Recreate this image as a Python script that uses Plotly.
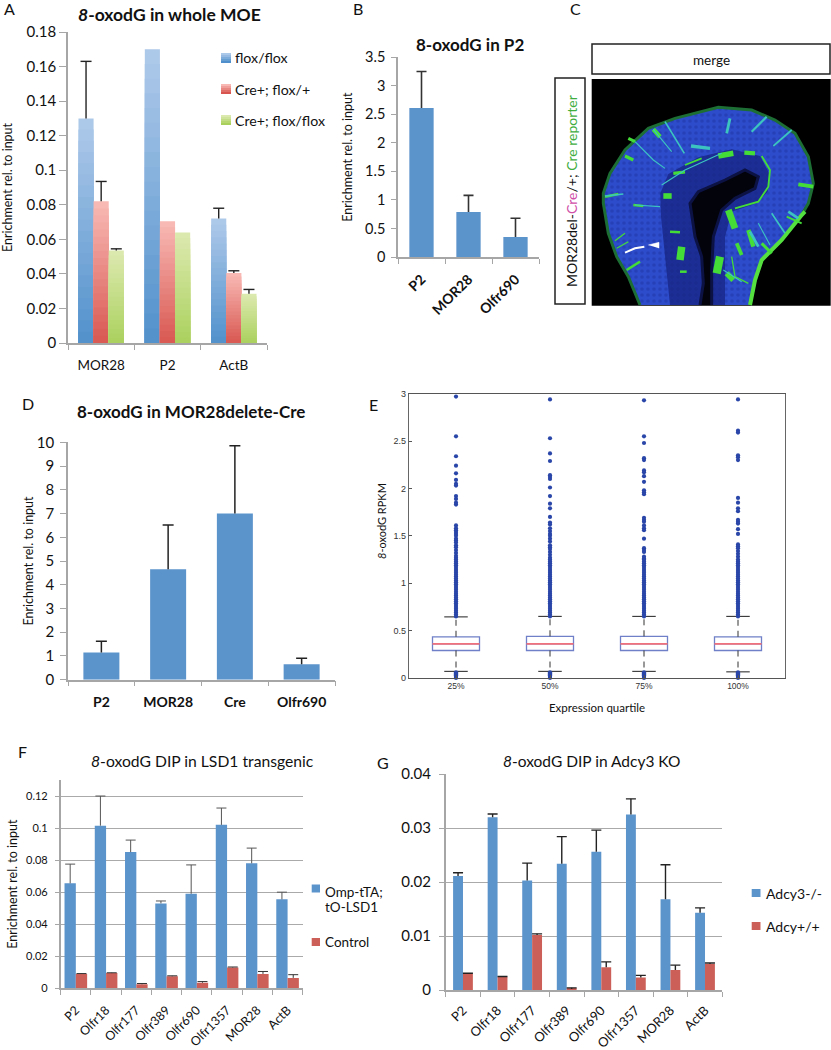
import plotly.graph_objects as go

W, H = 831, 1050
GRAY = "#a6a6a6"
BLUE = "#5b93cb"
RED = "#cc6058"
FONT = "Lato"

# Panel A
A_CATS = ["MOR28", "P2", "ActB"]
A_NAMES = ["flox/flox", "Cre+; flox/+", "Cre+; flox/flox"]
A_VALUES = [[0.130, 0.170, 0.072], [0.082, 0.0705, 0.0405], [0.0535, 0.064, 0.0285]]
A_TOPS = [[0.163, 0.170, 0.078], [0.0935, 0.0705, 0.0418], [0.0545, 0.064, 0.031]]

# Panel B
B_CATS = ["P2", "MOR28", "Olfr690"]
B_VALUES = [2.61, 0.79, 0.35]
B_TOPS = [3.25, 1.08, 0.68]

# Panel D
D_CATS = ["P2", "MOR28", "Cre", "Olfr690"]
D_VALUES = [1.15, 4.65, 7.0, 0.65]
D_TOPS = [1.62, 6.52, 9.85, 0.9]

# Panel E
E_POS = [1, 2, 3, 4]
E_LABELS = ["25%", "50%", "75%", "100%"]
E_Q1 = [0.29, 0.29, 0.29, 0.29]
E_MED = [0.36, 0.36, 0.36, 0.36]
E_Q3 = [0.435, 0.44, 0.44, 0.435]
E_LOWF = [0.07, 0.07, 0.07, 0.065]
E_UPF = [0.645, 0.65, 0.65, 0.65]
E_DENSE = [0.65, 0.67, 0.69, 0.71, 0.73, 0.75, 0.77, 0.79, 0.81, 0.83, 0.85, 0.87, 0.89, 0.91, 0.93,
           0.95, 0.97, 0.99, 1.01, 1.03, 1.05, 1.07, 1.09, 1.11, 1.13, 1.15, 1.17, 1.19, 1.21, 1.23, 1.25]
E_LOW = [0.0, 0.01, 0.02, 0.03, 0.04, 0.05, 0.06]
E_OUT = [
    [2.97, 2.55, 2.34, 2.24, 2.16, 2.09, 2.05, 2.03, 1.92, 1.89, 1.85, 1.83, 1.61, 1.58, 1.56, 1.54, 1.52,
     1.50, 1.47, 1.45, 1.43, 1.40, 1.38, 1.35, 1.32, 1.29, 1.27],
    [2.94, 2.53, 2.37, 2.29, 2.14, 2.12, 2.10, 2.01, 1.92, 1.84, 1.79, 1.70, 1.64, 1.62, 1.58, 1.55, 1.52,
     1.50, 1.47, 1.44, 1.40, 1.38, 1.36, 1.33, 1.30, 1.27],
    [2.93, 2.55, 2.48, 2.32, 2.30, 2.19, 2.17, 2.13, 2.07, 1.98, 1.96, 1.94, 1.69, 1.67, 1.65, 1.61, 1.58,
     1.56, 1.47, 1.37, 1.35, 1.33, 1.28, 1.26],
    [2.94, 2.61, 2.59, 2.35, 2.33, 2.30, 1.90, 1.85, 1.79, 1.76, 1.67, 1.65, 1.63, 1.57, 1.52, 1.41, 1.39,
     1.37, 1.34, 1.31, 1.28],
]

# Panels F and G
TARGETS = ["P2", "Olfr18", "Olfr177", "Olfr389", "Olfr690", "Olfr1357", "MOR28", "ActB"]
F_BLUE = [0.0655, 0.1015, 0.085, 0.053, 0.059, 0.102, 0.078, 0.0555]
F_BLUE_TOP = [0.0775, 0.12, 0.0925, 0.0545, 0.077, 0.1125, 0.0875, 0.06]
F_RED = [0.009, 0.0095, 0.0025, 0.0075, 0.0035, 0.013, 0.009, 0.0065]
F_RED_TOP = [0.0092, 0.0097, 0.003, 0.0078, 0.0042, 0.0133, 0.0105, 0.0085]
G_BLUE = [0.0211, 0.032, 0.0203, 0.0234, 0.0256, 0.0325, 0.0168, 0.0143]
G_BLUE_TOP = [0.0217, 0.0326, 0.0235, 0.0284, 0.0296, 0.0354, 0.0232, 0.0152]
G_RED = [0.003, 0.0024, 0.0102, 0.0002, 0.0042, 0.0023, 0.0037, 0.0048]
G_RED_TOP = [0.0031, 0.0025, 0.0104, 0.0004, 0.0052, 0.0027, 0.0046, 0.005]

# Panel C micrograph sketch (image coordinates)
TISSUE = [(165, 705), (130, 620), (95, 560), (70, 490), (55, 400), (55, 370), (75, 310), (120, 240), (190, 175),
          (270, 145), (400, 112), (500, 120), (570, 150), (630, 190), (670, 260), (685, 340), (670, 400),
          (650, 435), (590, 510), (530, 570), (510, 630), (495, 705)]
INNER = [(255, 705), (240, 560), (228, 440), (226, 370), (250, 312), (340, 262), (440, 238), (525, 258), (555, 315),
         (548, 365), (515, 400), (440, 425), (420, 500), (420, 705)]
LUMEN = [(345, 705), (355, 640), (350, 560), (330, 500), (315, 400), (340, 365), (420, 330), (480, 300),
         (520, 320), (510, 355), (450, 385), (410, 420), (385, 500), (380, 600), (380, 705)]
RIM = [(495, 705), (510, 630), (530, 570), (590, 510), (650, 435), (660, 425)]
GREEN_CELLS = [
    ([(205, 178), (225, 200)], 7), ([(150, 215), (130, 205)], 5), ([(120, 258), (145, 270)], 5),
    ([(60, 380), (100, 372)], 4), ([(400, 258), (445, 250)], 9), ([(478, 248), (510, 250)], 7),
    ([(235, 378), (260, 378)], 9), ([(265, 310), (300, 306)], 5), ([(300, 285), (350, 265)], 3),
    ([(530, 258), (555, 300), (550, 350), (520, 395), (450, 415)], 3), ([(430, 420), (450, 475)], 11),
    ([(290, 530), (285, 570)], 12), ([(405, 560), (395, 610)], 13), ([(490, 480), (505, 530)], 7),
    ([(455, 520), (470, 555)], 6), ([(425, 610), (445, 630)], 9), ([(640, 343), (685, 350)], 6),
    ([(90, 512), (120, 490)], 2), ([(95, 535), (130, 515)], 2), ([(125, 600), (165, 575)], 4),
    ([(255, 485), (285, 487)], 4), ([(145, 405), (175, 408)], 4), ([(530, 520), (560, 550)], 5),
    ([(605, 440), (650, 460)], 3), ([(285, 605), (305, 605)], 4), ([(440, 560), (450, 620), (490, 640)], 2),
]
CYAN_CELLS = [
    ([(240, 155), (275, 215), (298, 250)], 3), ([(205, 178), (260, 245)], 2), ([(150, 215), (205, 270), (240, 295)], 2),
    ([(318, 228), (375, 235)], 6), ([(435, 145), (425, 190)], 5), ([(545, 140), (500, 185)], 4),
    ([(620, 180), (565, 228)], 3), ([(60, 378), (115, 372)], 3), ([(560, 430), (600, 490)], 3),
    ([(520, 460), (555, 525)], 2), ([(495, 485), (520, 530)], 5), ([(150, 405), (225, 410)], 2),
    ([(415, 600), (470, 635)], 2), ([(610, 425), (640, 445)], 5), ([(230, 345), (300, 300), (410, 250)], 2),
]

# Layout in page pixels: x0, x1, ytop, ybottom
PANELS = {
    "a": (68, 267, 32, 343), "b": (398, 539, 57.3, 257), "d": (68, 335, 442.3, 679.7),
    "e": (409, 785, 393.7, 678), "f": (60.7, 302.7, 780, 988.3), "g": (445.7, 722.3, 774, 990),
    "c": (585, 831, 70, 310),
}
AXES = {"a": "", "b": "2", "d": "3", "e": "4", "f": "5", "g": "6", "c": "7"}


def dom(name):
    x0, x1, yt, yb = PANELS[name]
    return [x0 / W, x1 / W], [1 - yb / H, 1 - yt / H]


def mix(c0, c1, t):
    a = [int(c0[i:i + 2], 16) for i in (1, 3, 5)]
    b = [int(c1[i:i + 2], 16) for i in (1, 3, 5)]
    return "rgb(%d,%d,%d)" % tuple(round(p + (q - p) * t) for p, q in zip(a, b))


def segs(pairs):
    xs, ys = [], []
    for x0, y0, x1, y1 in pairs:
        xs += [x0, x1, None]
        ys += [y0, y1, None]
    return xs, ys


fig = go.Figure()


def whiskers(values, tops, key, width, offset, color, thick, cap_px):
    """Upper-only error bars with a single cap at the top."""
    s = AXES[key]
    n = PANELS[key][1] - PANELS[key][0]
    half = cap_px / (n / len(values))
    centre = offset + width / 2
    pairs = []
    for i, (v, t) in enumerate(zip(values, tops)):
        if t > v:
            pairs.append((i + centre, v, i + centre, t))
            pairs.append((i + centre - half, t, i + centre + half, t))
    xs, ys = segs(pairs)
    fig.add_trace(go.Scatter(x=xs, y=ys, mode="lines", xaxis="x" + s, yaxis="y" + s, showlegend=False,
                             hoverinfo="skip", line=dict(color=color, width=thick)))


def bar(values, tops, key, color, width, offset, ecolor="#222222", ethick=1.4, cap=5):
    s = AXES[key]
    fig.add_trace(go.Bar(x=list(range(len(values))), y=values, xaxis="x" + s, yaxis="y" + s, width=width, offset=offset,
                         marker=dict(color=color, line=dict(width=0)), showlegend=False))
    whiskers(values, tops, key, width, offset, ecolor, ethick, cap)


# Panel A: shaded bars are drawn as nested layers, tallest first
A_GRAD = [("#4f8fcb", "#adc9e9"), ("#d8554f", "#f8b8b3"), ("#a9d05c", "#dce9ae")]
LAYERS = 20
w = 0.228
for i, (vals, tops) in enumerate(zip(A_VALUES, A_TOPS)):
    low, high = A_GRAD[i]
    for k in range(LAYERS, 0, -1):
        t = k / LAYERS
        fig.add_trace(go.Bar(
            x=list(range(len(A_CATS))), y=[v * t for v in vals], width=w, offset=w * (i - 1.5),
            marker=dict(color=mix(low, high, t), line=dict(width=0)), showlegend=False, hoverinfo="skip"))
for i, (vals, tops) in enumerate(zip(A_VALUES, A_TOPS)):
    whiskers(vals, tops, "a", w, w * (i - 1.5), "#222222", 1.4, 5.5)

# Panel B
wb = 24.3 / 47
bar(B_VALUES, B_TOPS, "b", BLUE, wb, -wb / 2, "#333333", 1.6, 5)

# Panel D
wd = 36 / 66.75
bar(D_VALUES, D_TOPS, "d", BLUE, wd, -wd / 2, "#222222", 1.5, 5.5)

# Panel E
fig.add_trace(go.Box(x=E_POS, q1=E_Q1, median=E_MED, q3=E_Q3, lowerfence=E_Q1, upperfence=E_Q3,
                     width=0.5, boxpoints=False, xaxis="x4", yaxis="y4", showlegend=False,
                     line=dict(color="#6f80c8", width=1.3), fillcolor="rgba(0,0,0,0)"))
for spec, color, dash, lw in [
    ([(p - 0.25, m, p + 0.25, m) for p, m in zip(E_POS, E_MED)], "#f0707c", "solid", 1.8),
    ([(p, q, p, u) for p, q, u in zip(E_POS, E_Q3, E_UPF)] +
     [(p, q, p, l) for p, q, l in zip(E_POS, E_Q1, E_LOWF)], "#333333", "6px,5px", 1),
    ([(p - 0.125, u, p + 0.125, u) for p, u in zip(E_POS, E_UPF)] +
     [(p - 0.125, l, p + 0.125, l) for p, l in zip(E_POS, E_LOWF)], "#333333", "solid", 1.1),
]:
    xs, ys = segs(spec)
    fig.add_trace(go.Scatter(x=xs, y=ys, mode="lines", xaxis="x4", yaxis="y4", showlegend=False,
                             line=dict(color=color, width=lw, dash=dash)))
for p, out in zip(E_POS, E_OUT):
    ys = out + E_DENSE + E_LOW
    fig.add_trace(go.Scatter(x=[p] * len(ys), y=ys, mode="markers", xaxis="x4", yaxis="y4", showlegend=False,
                             cliponaxis=False, marker=dict(color="#2a46a8", size=4.2, line=dict(width=0))))

# Panels F and G
wf = 11.3 / 30.25
bar(F_BLUE, F_BLUE_TOP, "f", BLUE, wf, -wf, "#555555", 1, 5)
bar(F_RED, F_RED_TOP, "f", RED, wf, 0, "#333333", 1, 5)
wg = 9.9 / 34.6
bar(G_BLUE, G_BLUE_TOP, "g", BLUE, wg, -wg, "#222222", 1.4, 5)
bar(G_RED, G_RED_TOP, "g", RED, wg, 0, "#222222", 1.4, 5)


# Panel C sketch
def poly(points, **kw):
    fig.add_trace(go.Scatter(x=[p[0] for p in points], y=[p[1] for p in points], xaxis="x7", yaxis="y7",
                             showlegend=False, hoverinfo="skip", **kw))


poly(TISSUE, mode="lines", fill="toself", line=dict(color="#1d6e35", width=3), fillcolor="#2d4ccc",
     fillpattern=dict(shape=".", bgcolor="#2d4ccc", fgcolor="#1f36a4", size=6, solidity=0.3))
poly(INNER, mode="lines", fill="toself", line=dict(width=0), fillcolor="rgba(20,30,120,0.65)")
poly(LUMEN, mode="lines", fill="toself", line=dict(color="#0c1344", width=3), fillcolor="#03030c")
poly(RIM, mode="lines", line=dict(color="#55e040", width=4))
for pts, lw in GREEN_CELLS:
    poly(pts, mode="lines", line=dict(color="#44dd38", width=lw / 1.6))
for pts, lw in CYAN_CELLS:
    poly(pts, mode="lines", line=dict(color="#3cc4c0", width=lw / 1.8))
poly([(120, 548), (150, 535), (178, 530)], mode="lines", line=dict(color="#ffffff", width=2))
poly([(190, 525), (222, 517), (222, 535)], mode="lines", fill="toself", line=dict(color="#ffffff", width=0.5),
     fillcolor="#ffffff")

# Axes
layout = dict(width=W, height=H, margin=dict(l=0, r=0, t=0, b=0), paper_bgcolor="white", plot_bgcolor="rgba(0,0,0,0)",
              barmode="overlay", showlegend=False, font=dict(family=FONT, color="#111111"))


def cat_axes(key, cats, ymax, dtick, tick_size, title_size, standoff, ticklen=6, ystand=0, xstand=0, rot=0, bold=False,
             grid=False, xsize=None, titled=True):
    s = AXES[key]
    dx, dy = dom(key)
    n = len(cats)
    layout["xaxis" + s] = dict(domain=dx, anchor="y" + s, range=[-0.5, n - 0.5], tickvals=list(range(n)), ticktext=cats,
                               ticks="outside", ticklen=5, tickcolor="rgba(0,0,0,0)", ticklabelstandoff=xstand,
                               minor=dict(tickvals=[i - 0.5 for i in range(n + 1)], ticks="outside", ticklen=5,
                                          tickcolor=GRAY, tickwidth=1.2, showgrid=False),
                               linecolor=GRAY, linewidth=1.5, showline=True, showgrid=False, zeroline=False,
                               tickangle=rot, automargin=False,
                               tickfont=dict(size=xsize or tick_size, family=FONT, weight=700 if bold else 400))
    layout["yaxis" + s] = dict(domain=dy, anchor="x" + s, range=[0, ymax], dtick=dtick, ticks="outside", ticklen=ticklen,
                               tickcolor=GRAY, linecolor=GRAY, linewidth=1.5, showline=True, showgrid=grid,
                               gridcolor="#aaaaaa", gridwidth=1.2, automargin=False, zeroline=False,
                               ticklabelstandoff=ystand, tickformat="~g", tickfont=dict(size=tick_size, family=FONT))
    if titled:
        layout["yaxis" + s]["title"] = dict(text="Enrichment rel. to input", standoff=standoff,
                                            font=dict(size=title_size, family=FONT))


cat_axes("a", A_CATS, 0.18, 0.02, 15, 12.5, 16, ticklen=7, xsize=13.5, xstand=4)
cat_axes("b", B_CATS, 3.5, 0.5, 14.5, 12.5, 10, ticklen=5, ystand=3, rot=-45, bold=True, xsize=14, xstand=2)
cat_axes("d", D_CATS, 10, 1, 15, 12.5, 0, ticklen=6, ystand=3, bold=True, xsize=14, xstand=4)
cat_axes("f", TARGETS, 0.13, 0.02, 11, 12.5, 6, ticklen=4, ystand=5, rot=-45, grid=True, xsize=12.5, xstand=3)
cat_axes("g", TARGETS, 0.04, 0.01, 15, 10, 6, ticklen=5, ystand=5, rot=-45, grid=True, xsize=13, xstand=1, titled=False)

dx, dy = dom("e")
layout["xaxis4"] = dict(domain=dx, anchor="y4", range=[0.5, 4.5], tickvals=E_POS, ticktext=E_LABELS, ticks="inside",
                        ticklen=3, tickcolor="#555555", linecolor="#555555", linewidth=1.4, showline=True, mirror=True,
                        showgrid=False, zeroline=False, automargin=False,
                        tickfont=dict(size=8.5, family="Liberation Sans", color="#333333"),
                        title=dict(text="Expression quartile", standoff=13, font=dict(size=11.5, family=FONT)))
layout["yaxis4"] = dict(domain=dy, anchor="x4", range=[0, 3], dtick=0.5, tickformat="~g", ticks="inside", ticklen=3,
                        tickcolor="#555555", linecolor="#666666", linewidth=1.4, showline=True, mirror=True,
                        showgrid=False, zeroline=False, automargin=False,
                        tickfont=dict(size=9, family="Liberation Sans", color="#333333"))
dx, dy = dom("c")
layout["xaxis7"] = dict(domain=dx, anchor="y7", range=[0, 738], visible=False)
layout["yaxis7"] = dict(domain=dy, anchor="x7", range=[720, 0], visible=False)


def txt(x, y, text, size, anchor="center", **kw):
    return dict(x=x / W, y=1 - y / H, xref="paper", yref="paper", text=text, showarrow=False, xanchor=anchor,
                yanchor="middle", font=dict(size=size, family=FONT, color="#111111"), **kw)


ann = [
    txt(9, 8, "A", 16), txt(358, 8, "B", 16), txt(575, 8, "C", 16), txt(28, 403, "D", 16), txt(373, 405, "E", 16),
    txt(22, 751, "F", 16), txt(383, 762, "G", 16),
    txt(169, 15, "<b><i>8</i>-oxodG in whole MOE</b>", 17.5), txt(470, 45, "<b>8-oxodG in P2</b>", 17),
    txt(191, 411, "<b>8-oxodG in MOR28delete-Cre</b>", 17),
    txt(202, 761, "<i>8</i>-oxodG DIP in LSD1 transgenic", 15.7), txt(591, 761, "<i>8</i>-oxodG DIP in Adcy3 KO", 15.5),
    txt(711, 60, "merge", 13.5),
    txt(381, 521, "<i>8</i>-oxodG RPKM", 11, textangle=-90),
    txt(571, 191, 'MOR28del-<span style="color:#d04fa8">Cre</span>/+; <span style="color:#3fae3f">Cre reporter</span>',
        14, textangle=-90),
    txt(323, 892, "Omp-tTA;", 13.5, "left"), txt(323, 907, "tO-LSD1", 13.5, "left"), txt(323, 942, "Control", 13.5, "left"),
    txt(764, 893, "Adcy3-/-", 14, "left"), txt(764, 926, "Adcy+/+", 14, "left"),
]
for name, y in zip(A_NAMES, [58, 89, 120]):
    ann.append(txt(233, y, name, 14.2, "left"))
layout["annotations"] = ann


def rect(x0, y0, x1, y1, fill=None, line=None, lw=0):
    return dict(type="rect", xref="paper", yref="paper", x0=x0 / W, x1=x1 / W, y0=1 - y0 / H, y1=1 - y1 / H,
                fillcolor=fill or "rgba(0,0,0,0)", line=dict(color=line or "rgba(0,0,0,0)", width=lw), layer="below")


shapes = [
    rect(591.7, 79, 830.7, 305.7, "#000000"),
    rect(592, 44, 830, 74, None, "#222222", 1.5),
    rect(555, 78, 585, 304, None, "#222222", 1.5),
    rect(311.7, 884.5, 320, 892.5, BLUE), rect(311.7, 938, 320, 946, RED),
    rect(751.7, 889, 760.5, 897, BLUE), rect(751.7, 922, 760.5, 930, RED),
]
for (low, high), y in zip(A_GRAD, [58, 89, 120]):
    for j in range(5):
        shapes.append(rect(221, y - 5 + 2 * j, 231, y - 3 + 2 * j, mix(high, low, j / 4)))
layout["shapes"] = shapes

fig.update_layout(**layout)
fig.write_html("out.html", config={"displayModeBar": False}, post_script="document.body.style.margin='0';")
